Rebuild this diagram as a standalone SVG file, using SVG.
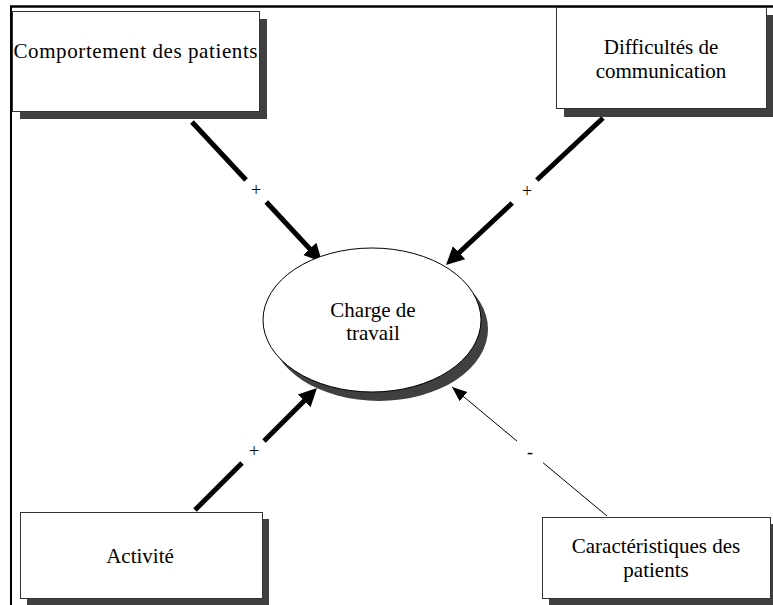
<svg xmlns="http://www.w3.org/2000/svg" width="773" height="605" viewBox="0 0 773 605">
  <style>
    .box { fill: #ffffff; stroke: #333333; stroke-width: 1; }
    .shadow { fill: #404040; stroke: none; }
    .label { font-family: "Liberation Serif", "Times New Roman", serif; font-size: 21px; fill: #000000; text-anchor: middle; }
    .sign { font-family: "Liberation Serif", "Times New Roman", serif; font-size: 18px; fill: #000000; text-anchor: middle; }
    .thick { stroke: #000000; stroke-width: 5; fill: none; }
    .thin { stroke: #000000; stroke-width: 1; fill: none; }
  </style>
  <defs>
    <marker id="headThick" markerUnits="userSpaceOnUse" markerWidth="20" markerHeight="20" refX="10" refY="10" orient="auto">
      <path d="M0,1 L18,10 L0,19 Z" fill="#000000"/>
    </marker>
    <marker id="headThin" markerUnits="userSpaceOnUse" markerWidth="16" markerHeight="14" refX="15" refY="7" orient="auto">
      <path d="M0,1 L15,7 L0,13 Z" fill="#000000"/>
    </marker>
  </defs>

  <rect width="773" height="605" fill="#ffffff"/>

  <!-- outer frame (top and left edges) -->
  <g id="frame">
    <line x1="10" y1="6.5" x2="773" y2="6.5" stroke="#000000" stroke-width="2.5"/>
    <line x1="11" y1="6" x2="11" y2="605" stroke="#000000" stroke-width="2"/>
  </g>

  <g id="connectors">
    <!-- Comportement des patients -> Charge de travail -->
    <line class="thick" x1="192" y1="122" x2="246" y2="180"/>
    <line class="thick" x1="266.3" y1="202" x2="316.6" y2="256.1" marker-end="url(#headThick)"/>
    <text class="sign" x="256" y="196">+</text>

    <!-- Difficultés de communication -> Charge de travail -->
    <line class="thick" x1="603" y1="118" x2="536.8" y2="180"/>
    <line class="thick" x1="512.2" y1="203" x2="451.8" y2="259.5" marker-end="url(#headThick)"/>
    <text class="sign" x="527" y="197">+</text>

    <!-- Activité -> Charge de travail -->
    <line class="thick" x1="195" y1="510" x2="242" y2="463"/>
    <line class="thick" x1="264" y1="441" x2="311.3" y2="393.7" marker-end="url(#headThick)"/>
    <text class="sign" x="254" y="457">+</text>

    <!-- Caractéristiques des patients -> Charge de travail -->
    <line class="thin" x1="607" y1="516" x2="543" y2="462.7"/>
    <line class="thin" x1="517" y1="441.1" x2="452" y2="387" marker-end="url(#headThin)"/>
    <text class="sign" x="530" y="458">-</text>
  </g>

  <g id="charge">
    <ellipse class="shadow" cx="379" cy="329" rx="109" ry="72"/>
    <ellipse cx="372" cy="320" rx="109" ry="72" fill="#ffffff" stroke="#000000" stroke-width="1"/>
    <text class="label" x="373" y="317">Charge de</text>
    <text class="label" x="373" y="340">travail</text>
  </g>

  <g id="comportement">
    <rect class="shadow" x="20" y="19" width="247" height="100"/>
    <rect class="box" x="12.5" y="11.5" width="247" height="100"/>
    <text class="label" x="135.5" y="58" textLength="244" lengthAdjust="spacing">Comportement des patients</text>
  </g>

  <g id="difficultes">
    <rect class="shadow" x="564" y="15" width="211" height="102"/>
    <rect class="box" x="556.5" y="7.5" width="210" height="101"/>
    <text class="label" x="661" y="54">Difficultés de</text>
    <text class="label" x="661" y="78">communication</text>
  </g>

  <g id="activite">
    <rect class="shadow" x="27" y="519" width="242" height="90"/>
    <rect class="box" x="20.5" y="512.5" width="242" height="86"/>
    <text class="label" x="140" y="563">Activité</text>
  </g>

  <g id="caracteristiques">
    <rect class="shadow" x="549" y="524" width="230" height="90"/>
    <rect class="box" x="542.5" y="517.5" width="228" height="81"/>
    <text class="label" x="656" y="553">Caractéristiques des</text>
    <text class="label" x="656" y="577">patients</text>
  </g>
</svg>
